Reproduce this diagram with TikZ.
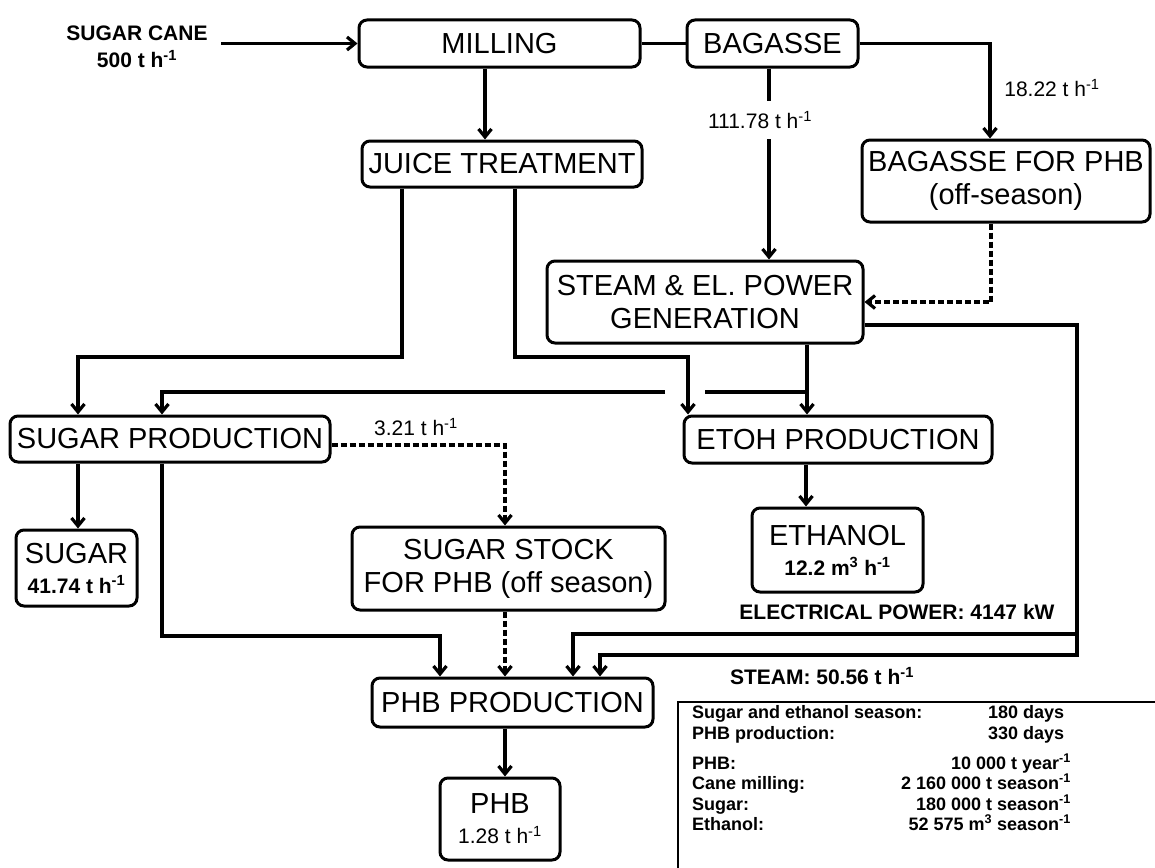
\documentclass[tikz,border=0pt]{standalone}
\usepackage{fontspec}
\setmainfont{Liberation Sans}
\usetikzlibrary{arrows.meta}
\begin{document}
\begin{tikzpicture}[x=1pt,y=-1pt,
  box/.style={draw, line width=3pt, rounded corners=8pt, inner sep=0pt, align=center,
    font=\fontsize{29}{33}\selectfont},
  conn/.style={line width=3.2pt},
  flow/.style={conn, -{Straight Barb[length=8pt,width=13pt]}},
  dflow/.style={flow, dash pattern=on 6pt off 3pt},
  lbl/.style={inner sep=1pt, font=\fontsize{21}{24}\selectfont},
  blbl/.style={inner sep=1pt, align=center, font=\fontsize{21}{27}\selectfont\bfseries},
  info/.style={inner sep=0pt, font=\fontsize{18}{20}\selectfont\bfseries}
]
\useasboundingbox (0,0) rectangle (1155,867);

% boxes
\node[box, minimum width=281pt, minimum height=47pt] (mill) at (499.5,43.5) {MILLING};
\node[box, minimum width=171pt, minimum height=47pt] (bag) at (772.5,43.5) {BAGASSE};
\node[box, minimum width=280pt, minimum height=46pt] (juice) at (502,164) {JUICE TREATMENT};
\node[box, minimum width=288pt, minimum height=82pt] (bagphb) at (1006,181) {BAGASSE FOR PHB\\(off-season)};
\node[box, minimum width=316pt, minimum height=82pt] (steam) at (705,302) {STEAM \& EL. POWER\\GENERATION};
\node[box, minimum width=320pt, minimum height=46pt] (sugprod) at (170,439) {SUGAR PRODUCTION};
\node[box, minimum width=308pt, minimum height=47pt] (etoh) at (838,439.5) {ETOH PRODUCTION};
\node[box, minimum width=121pt, minimum height=76pt] (sugar) at (76.5,568)
  {SUGAR\\[-3pt]{\fontsize{21}{24}\selectfont\bfseries 41.74 t h\textsuperscript{-1}}};
\node[box, minimum width=313pt, minimum height=83pt] (stock) at (508.5,568.5) {SUGAR STOCK\\FOR PHB (off season)};
\node[box, minimum width=171pt, minimum height=84pt] (ethanol) at (837.5,550)
  {ETHANOL\\[-3pt]{\fontsize{21}{24}\selectfont\bfseries 12.2 m\textsuperscript{3} h\textsuperscript{-1}}};
\node[box, minimum width=281pt, minimum height=49pt] (phbprod) at (512.5,702.5) {PHB PRODUCTION};
\node[box, minimum width=120pt, minimum height=82pt] (phb) at (500,819)
  {PHB\\[-3pt]{\fontsize{21}{24}\selectfont 1.28 t h\textsuperscript{-1}}};

% input
\node[blbl] (cane) at (137,47) {SUGAR CANE\\500 t h\textsuperscript{-1}};
\coordinate (canestart) at (221,43.5);
\draw[flow] (canestart) -- (mill.west);

% milling / bagasse
\draw[conn] (mill.east) -- (bag.west);
\draw[flow] (485,0 |- mill.south) -- (485,0 |- juice.north);
\draw[flow] (769,0 |- bag.south) -- (769,0 |- steam.north);
\node[lbl, fill=white, inner ysep=10pt] (l111) at (760,120) {111.78 t h\textsuperscript{-1}};
\draw[flow] (bag.east) -| (990,0 |- bagphb.north);
\node[lbl] (l18) at (1052,88) {18.22 t h\textsuperscript{-1}};
\draw[dflow] (991,0 |- bagphb.south) |- (steam.east);

% steam to PHB
\coordinate (sv1) at (1077,655);
\coordinate (ev1) at (1077,634);
\draw[flow] (steam.east |- 0,325) -| (sv1) -| (600,0 |- phbprod.north);
\draw[flow] (ev1) -| (573,0 |- phbprod.north);
\node[blbl] (elp) at (897,612) {ELECTRICAL POWER: 4147 kW};
\node[blbl] (stl) at (822,676) {STEAM: 50.56 t h\textsuperscript{-1}};

% steam to ETOH and sugar production
\draw[flow] (807,0 |- steam.south) -- (807,0 |- etoh.north);
\coordinate (jA) at (807,392);
\coordinate (jB) at (705,392);
\coordinate (jC) at (665,392);
\draw[conn] (jA) -- (jB);
\draw[flow] (jC) -| (162,0 |- sugprod.north);

% juice
\draw[flow] (515,0 |- juice.south) |- (688,357) -- (688,0 |- etoh.north);
\draw[flow] (402,0 |- juice.south) |- (78,357) -- (78,0 |- sugprod.north);

% sugar production
\draw[flow] (78,0 |- sugprod.south) -- (78,0 |- sugar.north);
\draw[dflow] (sugprod.east |- 0,445) -| (505,0 |- stock.north);
\node[lbl] (l321) at (416,427) {3.21 t h\textsuperscript{-1}};
\draw[dflow] (505,0 |- stock.south) -- (505,0 |- phbprod.north);
\draw[flow] (162,0 |- sugprod.south) |- (440,636) -- (440,0 |- phbprod.north);

% etoh, phb
\draw[flow] (806,0 |- etoh.south) -- (806,0 |- ethanol.north);
\draw[flow] (505,0 |- phbprod.south) -- (505,0 |- phb.north);

% info box
\draw[line width=2.6pt] (678,870) -- (678,702) -- (1160,702);
\node[info, anchor=base west] (i1) at (692,718) {Sugar and ethanol season:};
\node[info, anchor=base west] (i1v) at (988,718) {180 days};
\node[info, anchor=base west] (i2) at (692,739) {PHB production:};
\node[info, anchor=base west] (i2v) at (988,739) {330 days};
\node[info, anchor=base west] (i3) at (692,769) {PHB:};
\node[info, anchor=base east] (i3v) at (1071,769) {10 000 t year\textsuperscript{-1}};
\node[info, anchor=base west] (i4) at (692,789) {Cane milling:};
\node[info, anchor=base east] (i4v) at (1071,789) {2 160 000 t season\textsuperscript{-1}};
\node[info, anchor=base west] (i5) at (692,810) {Sugar:};
\node[info, anchor=base east] (i5v) at (1071,810) {180 000 t season\textsuperscript{-1}};
\node[info, anchor=base west] (i6) at (692,830) {Ethanol:};
\node[info, anchor=base east] (i6v) at (1071,830) {52 575 m\textsuperscript{3} season\textsuperscript{-1}};
\end{tikzpicture}
\end{document}
